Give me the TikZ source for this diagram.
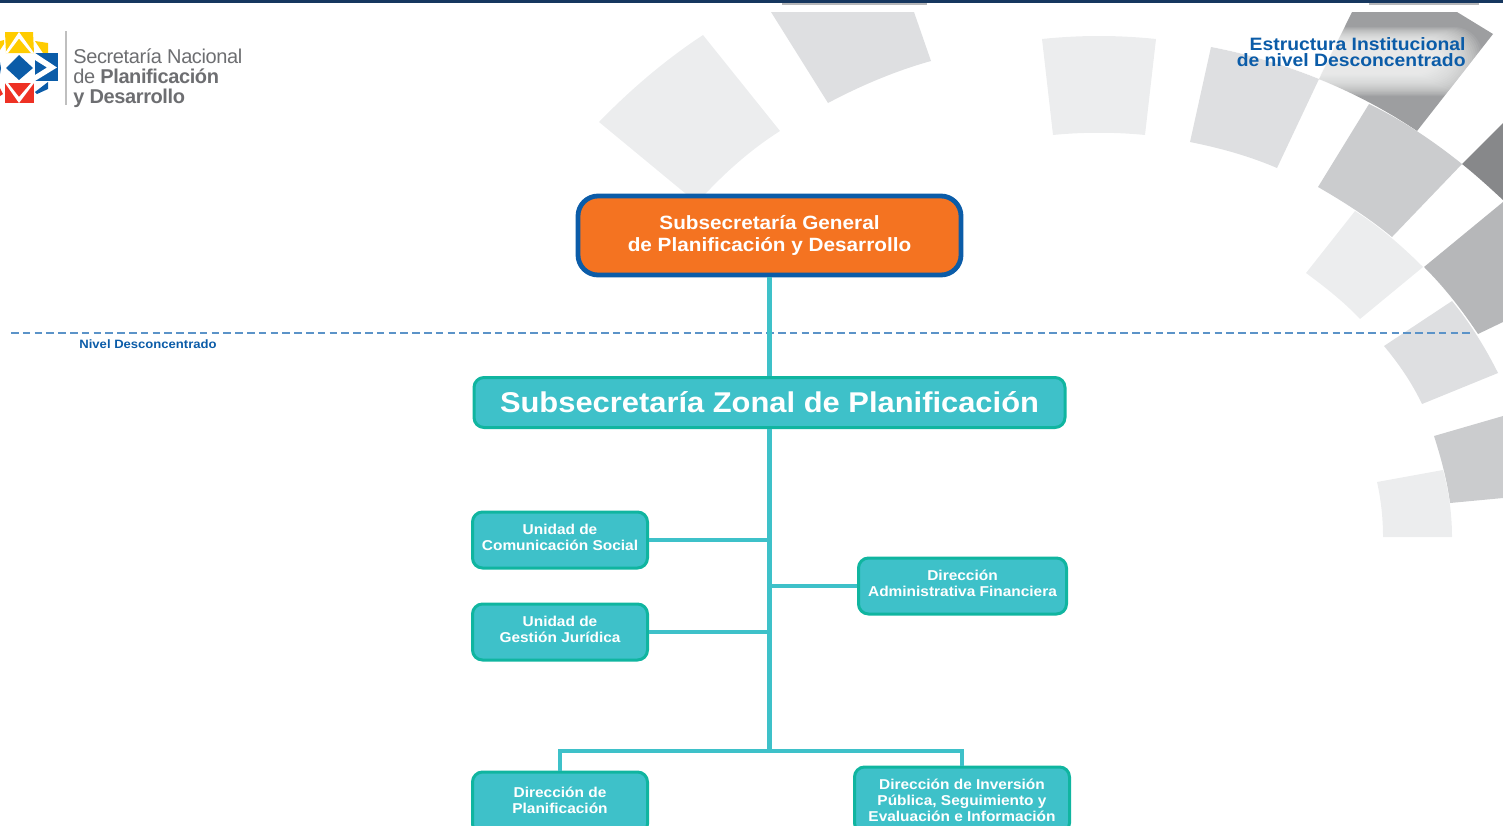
\documentclass[tikz,border=0pt]{standalone}
\usepackage{fontspec}
\setmainfont{Liberation Sans}
\newfontface\widebold[FakeStretch=1.08]{Liberation Sans Bold}
\newfontface\logoreg[LetterSpace=-2]{Liberation Sans}
\newfontface\logobold[LetterSpace=-2]{Liberation Sans Bold}
\definecolor{navy}{HTML}{16375F}
\definecolor{ga}{HTML}{ECEDEE}
\definecolor{gb}{HTML}{DEDFE1}
\definecolor{gc}{HTML}{CBCCCE}
\definecolor{gd}{HTML}{B6B7B9}
\definecolor{ge}{HTML}{9D9EA0}
\definecolor{gf}{HTML}{87888A}
\definecolor{teal1}{HTML}{3EC1C9}
\definecolor{teal2}{HTML}{10B5A0}
\definecolor{blue1}{HTML}{0B5CA8}
\definecolor{orange1}{HTML}{F47321}
\definecolor{dash1}{HTML}{5B93C8}
\definecolor{logotxt}{HTML}{6D6E71}
\definecolor{lyellow}{HTML}{FFCC00}
\definecolor{lred}{HTML}{EE3124}
\tikzset{
 x=0.5pt,y=-0.5pt,
 tealbox/.style={draw=teal2,fill=teal1,line width=1.5pt,rounded corners=5pt,inner sep=0pt,
   text=white,font=\widebold\fontsize{7.15}{8}\selectfont,align=center},
 smalltext/.style={text=white,align=center,inner sep=0pt,font=\widebold\fontsize{7.15}{8}\selectfont},
 logotext/.style={anchor=base west,inner sep=0pt,text=logotxt,font=\logoreg\fontsize{10}{10}\selectfont},
 link/.style={draw=teal1,line width=2.3pt},
}
\begin{document}
\begin{tikzpicture}
\useasboundingbox (0,0) rectangle (1503,825);
\clip (0,0) rectangle (1503,825);
% background pieces
\fill[ga] (599,122) .. controls (630,90) and (665,60) .. (703,35) -- (780,131) .. controls (750,150) and (722,175) .. (697,203) -- cycle;
\fill[gb] (771,12) -- (914,12) -- (931,61) .. controls (895,71) and (860,86) .. (828,103) -- cycle;
\fill[gd] (782,3) rectangle (927,5);
\fill[ga] (1042,39) .. controls (1080,35) and (1118,35) .. (1156,39) -- (1145,135) .. controls (1115,132) and (1083,132) .. (1053,135) -- cycle;
\fill[gb] (1211,47) .. controls (1248,54) and (1284,65) .. (1319,79) -- (1277,168) .. controls (1249,156) and (1220,148) .. (1190,142) -- cycle;
\fill[ge] (1352,12) -- (1457,12) -- (1493,34) -- (1417,131) .. controls (1386,110) and (1353,93) .. (1319,79) -- cycle;
\fill[gd] (1369,3) rectangle (1479,5);
\fill[gc] (1369,104) .. controls (1402,120) and (1432,140) .. (1462,164) -- (1392,237) .. controls (1369,218) and (1344,202) .. (1318,187) -- cycle;
\fill[gf] (1503,123) -- (1462,164) .. controls (1477,176) and (1490,188) .. (1503,200) -- cycle;
\fill[ga] (1355,211) .. controls (1380,227) and (1402,246) .. (1423,267) -- (1360,319) .. controls (1344,302) and (1325,287) .. (1306,273) -- cycle;
\fill[gd] (1503,202) -- (1424,267) .. controls (1445,288) and (1462,310) .. (1478,334) -- (1503,322) -- cycle;
\fill[gb] (1452,301) .. controls (1470,323) and (1485,347) .. (1498,373) -- (1422,404) .. controls (1412,383) and (1399,364) .. (1384,346) -- cycle;
\fill[gc] (1434,436) -- (1503,416) -- (1503,498) -- (1450,503) .. controls (1447,480) and (1441,458) .. (1434,436) -- cycle;
\fill[ga] (1377,482) -- (1443,470) .. controls (1449,492) and (1452,515) .. (1452,537) -- (1383,537) .. controls (1383,518) and (1381,500) .. (1377,482) -- cycle;
% glow behind the title
\begin{scope}
\clip (1211,47) .. controls (1248,54) and (1284,65) .. (1319,79) -- (1417,131) -- (1493,34) -- (1457,12) -- (1211,12) -- cycle;
\foreach \g in {0,2,...,40}
  \fill[white,opacity=.08,rounded corners=14pt] (1195+\g,27+\g*.4) rectangle (1482-\g,96-\g*.55);
\end{scope}
% top bar
\fill[navy] (0,0) rectangle (1503,3);
% logo
\fill[lyellow] (5,32) -- (33,32) -- (34,53) -- (6,53) -- cycle;
\fill[white] (19,32) -- (34,53) -- (31,53) -- (19,38.5) -- (8,53) -- (5,53) -- cycle;
\fill[lyellow] (35,41) -- (48,43) -- (48,53) -- (43,53) -- cycle;
\fill[lyellow] (0,41) -- (4,40) -- (4,44) -- (0,50) -- cycle;
\fill[blue1] (35,53) -- (58,53) -- (58,81) -- (35,81) -- cycle;
\fill[white] (35,53) -- (57,67.5) -- (35,81) -- (35,75) -- (47,67.5) -- (35,60) -- cycle;
\fill[blue1] (19,55) -- (33,68) -- (19,80) -- (6,68) -- cycle;
\fill[blue1] (0,62) -- (1,68) -- (0,74) -- cycle;
\fill[lred] (5,83) -- (34,83) -- (34,103) -- (5,103) -- cycle;
\fill[white] (5,83) -- (8,83) -- (19,97) -- (31,83) -- (34,83) -- (19,103) -- cycle;
\fill[blue1] (35,92) -- (48,82) -- (48,89) -- (37,94) -- cycle;
\fill[lred] (0,88) -- (3,94) -- (0,96) -- cycle;
\draw[gray!50,line width=.7pt] (66,31) -- (66,105);
\node[logotext] (l1) at (73,63) {Secretaría Nacional};
\node[logotext] (l2) at (73,83) {de {\logobold\fontsize{10}{10}\selectfont Planificación}};
\node[logotext,font=\logobold\fontsize{10}{10}\selectfont] (l3) at (73,103) {y Desarrollo};
% title
\node[anchor=east,inner sep=0pt,text=blue1,align=right,font=\widebold\fontsize{8.95}{8.2}\selectfont] (title) at (1466,52) {Estructura Institucional\\de nivel Desconcentrado};
% dashed level line
\coordinate (da) at (11,333);
\coordinate (db) at (1474,333);
\draw[dash1,line width=1.1pt,dash pattern=on 3.8pt off 2.1pt] (da) -- (db);
\node[anchor=west,inner sep=0pt,text=blue1,font=\widebold\fontsize{6.05}{6}\selectfont] (lvl) at (79,344) {Nivel Desconcentrado};
% boxes
\node[draw=blue1,fill=orange1,line width=2.4pt,rounded corners=10pt,minimum width=191.5pt,minimum height=39.5pt,inner sep=0pt,text=white,align=center,font=\widebold\fontsize{9.6}{10.8}\selectfont] (sg) at (769.5,235.5) {Subsecretaría General\\de Planificación y Desarrollo};
\node[tealbox,minimum width=295.5pt,minimum height=25pt,font=\widebold\fontsize{14.3}{16}\selectfont] (sz) at (769.5,402.5) {Subsecretaría Zonal de Planificación};
\node[tealbox,minimum width=87.5pt,minimum height=28pt,text depth=2.4pt] (uc) at (560,540) {Unidad de\\Comunicación Social};
\node[tealbox,minimum width=87.5pt,minimum height=28pt,text depth=2.4pt] (ug) at (560,632) {Unidad de\\Gestión Jurídica};
\node[tealbox,minimum width=104pt,minimum height=28pt,text depth=2.4pt] (da2) at (962.5,586) {Dirección\\Administrativa Financiera};
\node[tealbox,minimum width=87.5pt,minimum height=31pt] (dp) at (560,803) {};
\node[smalltext] (dpt) at (560,800) {Dirección de\\Planificación};
\node[tealbox,minimum width=107.5pt,minimum height=33pt] (di) at (962,800) {};
\node[smalltext] (dit) at (962,800) {Dirección de Inversión\\Pública, Seguimiento y\\Evaluación e Información};
% connectors
\path (sz.south) ++(0,322) coordinate (bus);
\draw[link] (sg.south) -- (sz.north);
\draw[link] (sz.south) -- (bus);
\draw[link] (uc.east) -- (uc.east -| sz.south);
\draw[link] (ug.east) -- (ug.east -| sz.south);
\draw[link] (da2.west) -- (da2.west -| sz.south);
\draw[link] (dp.north) |- (bus);
\draw[link] (di.north) |- (bus);
\end{tikzpicture}
\end{document}
